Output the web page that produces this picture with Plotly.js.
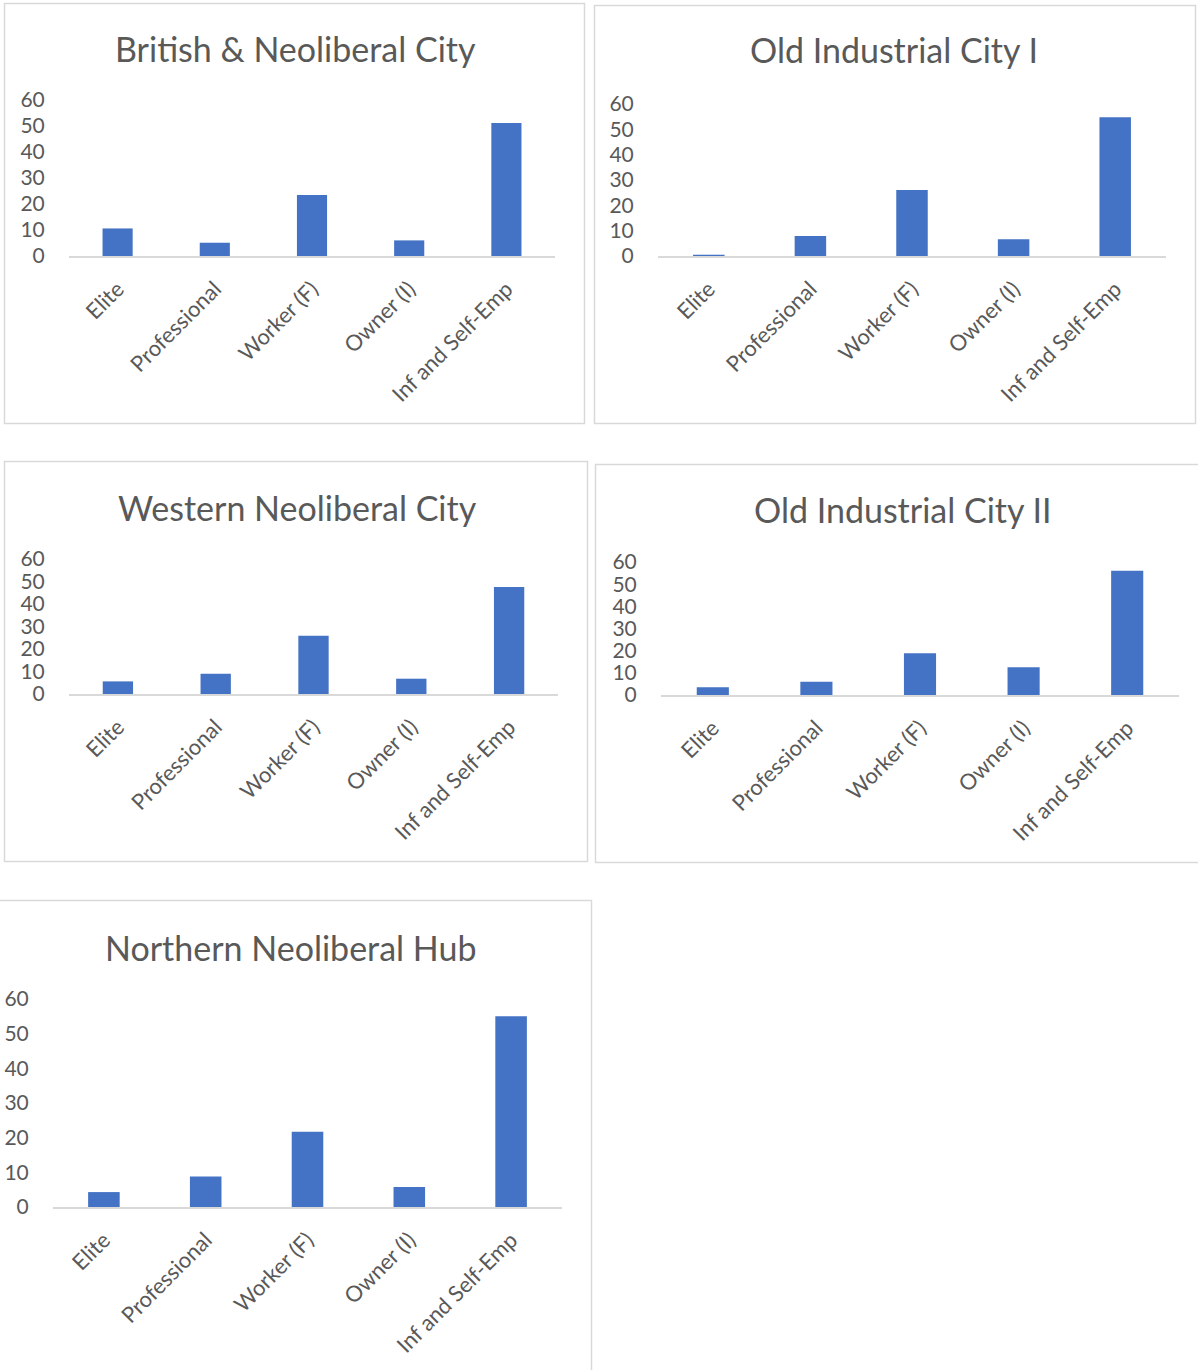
<!DOCTYPE html>
<html>
<head>
<meta charset="utf-8">
<script src="https://cdn.plot.ly/plotly-3.0.1.min.js"></script>
<style>
  html, body { margin: 0; padding: 0; background: #ffffff; }
  #chart { width: 1198px; height: 1370px; }
</style>
</head>
<body>
<div id="chart"></div>
<script>
// ---- Data ----
const categories = ['Elite', 'Professional', 'Worker (F)', 'Owner (I)', 'Inf and Self-Emp'];
const britishNeoliberalCity = [10.6, 5.1, 23.5, 6.0, 51.2];
const oldIndustrialCityI = [0.5, 7.9, 26.1, 6.6, 54.8];
const westernNeoliberalCity = [5.6, 9.0, 25.9, 6.8, 47.6];
const oldIndustrialCityII = [3.5, 6.0, 18.8, 12.5, 56.1];
const northernNeoliberalHub = [4.3, 8.8, 21.7, 5.8, 55.0];
const panelTitles = ['British & Neoliberal City', 'Old Industrial City I', 'Western Neoliberal City', 'Old Industrial City II', 'Northern Neoliberal Hub'];
const panelSeries = [britishNeoliberalCity, oldIndustrialCityI, westernNeoliberalCity, oldIndustrialCityII, northernNeoliberalHub];
const yTickValues = [0, 10, 20, 30, 40, 50, 60];

// ---- Layout geometry (pixels) ----
const W = 1198, H = 1370;
const panels = [
  { plot: [69, 555, 100, 256],   title: [295, 48],  box: [4.5, 3.5, 584.5, 423.5] },
  { plot: [658, 1166, 104, 256], title: [894, 50],  box: [594.5, 5.5, 1195.5, 423.5] },
  { plot: [69, 558, 559, 694],   title: [297, 507], box: [4.5, 461.5, 587.5, 861.5] },
  { plot: [661, 1179, 562, 695], title: [902, 509], box: [595.5, 464.5, 1200, 862.5] },
  { plot: [53, 562, 999, 1207],  title: [290, 947], box: [-2, 900.5, 591.5, 1375] }
];
const px = x => x / W;
const py = y => 1 - y / H;

const FONT = 'Lato, "Open Sans", sans-serif';
const TEXT = '#595959';
const GRID = '#d9d9d9';
const BAR = '#4472C4';

const data = [];
const layout = {
  width: W, height: H,
  margin: { l: 0, r: 0, t: 0, b: 0 },
  paper_bgcolor: '#ffffff',
  plot_bgcolor: 'rgba(0,0,0,0)',
  showlegend: false,
  bargap: 0.69,
  font: { family: FONT, color: TEXT, size: 20 },
  annotations: [],
  shapes: []
};

panels.forEach((p, i) => {
  const n = i + 1;
  const xa = n === 1 ? 'x' : 'x' + n;
  const ya = n === 1 ? 'y' : 'y' + n;
  data.push({
    type: 'bar',
    x: categories,
    y: panelSeries[i],
    xaxis: xa, yaxis: ya,
    marker: { color: BAR },
    hoverinfo: 'x+y'
  });
  const [x0, x1, yTop, yZero] = p.plot;
  layout['xaxis' + (n === 1 ? '' : n)] = {
    domain: [px(x0), px(x1)],
    anchor: ya,
    type: 'category',
    showline: true, linecolor: GRID, linewidth: 1.5,
    showgrid: false, zeroline: false,
    ticks: 'outside', ticklen: 10, tickcolor: 'rgba(0,0,0,0)',
    tickangle: -45,
    tickfont: { family: FONT, color: TEXT, size: 22 },
    fixedrange: true
  };
  layout['yaxis' + (n === 1 ? '' : n)] = {
    domain: [py(yZero), py(yTop)],
    anchor: xa,
    range: [0, 60],
    tickvals: yTickValues,
    showline: false, showgrid: false, zeroline: false,
    ticks: 'outside', ticklen: 19, tickcolor: 'rgba(0,0,0,0)',
    tickfont: { family: FONT, color: TEXT, size: 21 },
    fixedrange: true
  };
  layout.annotations.push({
    xref: 'paper', yref: 'paper',
    x: px(p.title[0]), y: py(p.title[1]),
    xanchor: 'center', yanchor: 'middle',
    text: panelTitles[i], showarrow: false,
    font: { family: FONT, color: TEXT, size: 34 }
  });
  const b = p.box;
  layout.shapes.push({
    type: 'rect', xref: 'paper', yref: 'paper',
    x0: px(b[0]), x1: px(b[2]), y0: py(b[3]), y1: py(b[1]),
    line: { color: GRID, width: 1.5 }, fillcolor: 'rgba(0,0,0,0)', layer: 'below'
  });
});

Plotly.newPlot('chart', data, layout, { displayModeBar: false, staticPlot: true });
</script>
</body>
</html>
